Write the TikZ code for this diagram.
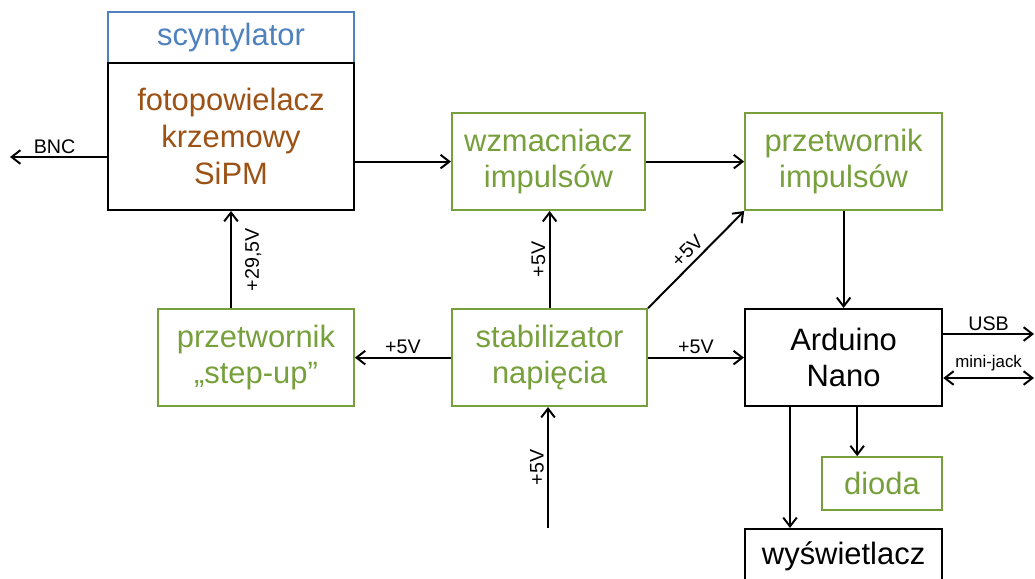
\documentclass[tikz,border=0pt]{standalone}
\usepackage{fontspec}
\setmainfont{Liberation Sans}
\usetikzlibrary{arrows.meta}
\definecolor{boxgreen}{HTML}{77A03C}
\definecolor{boxblue}{HTML}{4F81BD}
\definecolor{boxbrown}{HTML}{9C5214}
\tikzset{
  >={Straight Barb[length=2.2mm,width=3.4mm]},
  blk/.style={draw=black, line width=1.5pt, minimum height=2.43cm, align=center, inner sep=0pt, font=\fontsize{22}{26}\selectfont},
  grn/.style={blk, draw=boxgreen, text=boxgreen, line width=1.2pt},
  wire/.style={draw=black, line width=1.4pt, ->},
  lab/.style={font=\fontsize{14}{16}\selectfont, inner sep=2pt},
  labs/.style={font=\fontsize{12}{14}\selectfont, inner sep=2pt}
}

\begin{document}
\begin{tikzpicture}
  \useasboundingbox (0,0) rectangle (25.875,-14.45);

  \node[blk, draw=boxblue, text=boxblue, line width=1pt, minimum width=6.15cm, minimum height=1.275cm] (scyn) at (5.775,-0.94) {scyntylator};
  \node[blk, text=boxbrown, minimum width=6.15cm, minimum height=3.675cm] (sipm) at (5.775,-3.41) {fotopowielacz\\krzemowy\\SiPM};
  \node[grn, minimum width=4.83cm] (wzm) at (13.71,-4.04) {wzmacniacz\\impulsów};
  \node[grn, minimum width=4.93cm] (przimp) at (21.09,-4.04) {przetwornik\\impulsów};
  \node[grn, minimum width=4.9cm] (stepup) at (6.4,-8.94) {przetwornik\\„step-up”};
  \node[grn, minimum width=4.88cm] (stab) at (13.74,-8.94) {stabilizator\\napięcia};
  \node[blk, minimum width=4.93cm] (ard) at (21.09,-8.94) {Arduino\\Nano};
  \node[grn, minimum width=3cm, minimum height=1.33cm] (dioda) at (22.05,-12.09) {dioda};
  \node[blk, minimum width=4.93cm, minimum height=1.35cm] (wysw) at (21.09,-13.9) {wyświetlacz};

  \coordinate (bnc) at (0.25,-3.925);
  \coordinate (vin) at (13.7,-13.2);
  \coordinate (usb) at (25.85,-8.35);
  \coordinate (jack) at (25.85,-9.45);

  \draw[wire] (sipm.west |- bnc) -- node[lab, above, pos=0.54] {BNC} (bnc);
  \draw[wire] (sipm.east |- wzm.west) -- (wzm.west);
  \draw[wire] (wzm) -- (przimp);
  \draw[wire] (przimp) -- (ard);
  \draw[wire] (stepup.north -| sipm.south) -- node[lab, midway, rotate=90, anchor=north, outer sep=8pt] {+29,5V} (sipm.south);
  \draw[wire] (stab.north) -- node[lab, midway, rotate=90, anchor=south, outer sep=1pt] {+5V} (stab.north |- wzm.south);
  \draw[wire] (stab.north east) -- node[lab, midway, sloped, above, outer sep=2pt] {+5V} (przimp.south west);
  \draw[wire] (stab) -- node[lab, midway, above] {+5V} (stepup);
  \draw[wire] (stab) -- node[lab, midway, above] {+5V} (ard);
  \draw[wire] (vin) -- node[lab, midway, rotate=90, anchor=south, outer sep=1pt] {+5V} (vin |- stab.south);
  \draw[wire] (ard.east |- usb) -- node[lab, midway, above] {USB} (usb);
  \draw[wire, <->] (ard.east |- jack) -- node[labs, midway, above, outer sep=3pt] {mini-jack} (jack);
  \draw[wire] ([xshift=-1.34cm]ard.south) -- ([xshift=-1.34cm]ard.south |- wysw.north);
  \draw[wire] ([xshift=0.34cm]ard.south) -- ([xshift=0.34cm]ard.south |- dioda.north);
\end{tikzpicture}
\end{document}
